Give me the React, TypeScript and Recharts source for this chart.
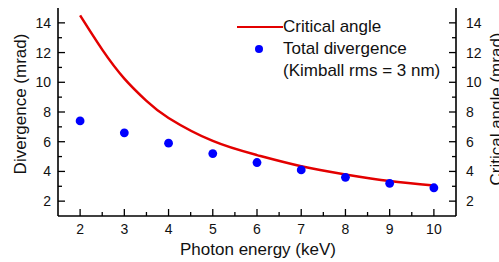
import React from 'react';
import { ComposedChart, Line, XAxis, YAxis } from 'recharts';

const curveEnergy = [2, 2.5, 3, 3.5, 4, 5, 6, 7, 8, 9, 10];
const criticalAngle = [14.5, 12.2, 10.25, 8.75, 7.6, 6.05, 5.1, 4.35, 3.8, 3.35, 3.05];
const dotEnergy = [2, 3, 4, 5, 6, 7, 8, 9, 10];
const totalDivergence = [7.4, 6.6, 5.9, 5.2, 4.6, 4.1, 3.6, 3.2, 2.9];

const xTicks = [2, 2.5, 3, 3.5, 4, 4.5, 5, 5.5, 6, 6.5, 7, 7.5, 8, 8.5, 9, 9.5, 10];
const yTicks = [2, 3, 4, 5, 6, 7, 8, 9, 10, 11, 12, 13, 14];

const FONT = '"Liberation Sans", Arial, sans-serif';
const RED = '#e30000';
const BLUE = '#0000ff';

const energies = Array.from(new Set([...curveEnergy, ...dotEnergy])).sort((a, b) => a - b);
const chartData = energies.map((e) => {
  const ci = curveEnergy.indexOf(e);
  const di = dotEnergy.indexOf(e);
  return {
    energy: e,
    critical: ci >= 0 ? criticalAngle[ci] : null,
    divergence: di >= 0 ? totalDivergence[di] : null,
  };
});

// eslint-disable-next-line @typescript-eslint/no-explicit-any
function BottomTick({ x, y, payload }: any) {
  const major = Number.isInteger(payload.value);
  return (
    <g>
      <line x1={x} x2={x} y1={y} y2={y - (major ? 7 : 4)} stroke="#000" strokeWidth={1.3} />
      {major && (
        <text x={x} y={y + 18} textAnchor="middle" fontSize={14} fontFamily={FONT} fill="#111">
          {payload.value}
        </text>
      )}
    </g>
  );
}

// eslint-disable-next-line @typescript-eslint/no-explicit-any
function TopTick({ x, y, payload }: any) {
  const major = Number.isInteger(payload.value);
  return <line x1={x} x2={x} y1={y} y2={y + (major ? 7 : 4)} stroke="#000" strokeWidth={1.3} />;
}

// eslint-disable-next-line @typescript-eslint/no-explicit-any
function LeftTick({ x, y, payload }: any) {
  const major = payload.value % 2 === 0;
  return (
    <g>
      <line x1={x} x2={x + (major ? 7 : 4)} y1={y} y2={y} stroke="#000" strokeWidth={1.3} />
      {major && (
        <text x={x - 7} y={y + 5} textAnchor="end" fontSize={14} fontFamily={FONT} fill="#111">
          {payload.value}
        </text>
      )}
    </g>
  );
}

// eslint-disable-next-line @typescript-eslint/no-explicit-any
function RightTick({ x, y, payload }: any) {
  const major = payload.value % 2 === 0;
  return (
    <g>
      <line x1={x} x2={x - (major ? 7 : 4)} y1={y} y2={y} stroke="#000" strokeWidth={1.3} />
      {major && (
        <text x={x + 10} y={y + 5} textAnchor="start" fontSize={14} fontFamily={FONT} fill="#111">
          {payload.value}
        </text>
      )}
    </g>
  );
}

const axisLine = { stroke: '#000', strokeWidth: 1.6 };

export default function App() {
  return (
    <div style={{ position: 'absolute', left: 0, top: 0, width: 499, height: 262, background: '#fff', fontFamily: FONT }}>
      <ComposedChart width={499} height={262} data={chartData} margin={{ top: 8, right: 0, left: 0, bottom: 0 }}>
        <XAxis
          xAxisId="bottom"
          dataKey="energy"
          type="number"
          domain={[1.5, 10.5]}
          ticks={xTicks}
          interval={0}
          height={46}
          tickSize={0}
          tickMargin={0}
          tickLine={false}
          axisLine={axisLine}
          tick={<BottomTick />}
          label={{
            content: () => (
              <text x={258} y={255} textAnchor="middle" fontSize={17} fontFamily={FONT} fill="#111">
                Photon energy (keV)
              </text>
            ),
          }}
        />
        <XAxis
          xAxisId="top"
          dataKey="energy"
          type="number"
          orientation="top"
          domain={[1.5, 10.5]}
          ticks={xTicks}
          interval={0}
          height={0}
          tickSize={0}
          tickMargin={0}
          tickLine={false}
          axisLine={axisLine}
          tick={<TopTick />}
        />
        <YAxis
          yAxisId="left"
          type="number"
          domain={[1, 15]}
          ticks={yTicks}
          interval={0}
          width={58}
          tickSize={0}
          tickMargin={0}
          tickLine={false}
          axisLine={axisLine}
          tick={<LeftTick />}
          label={{
            content: () => (
              <text x={26} y={104} transform="rotate(-90, 26, 104)" textAnchor="middle" fontSize={17} fontFamily={FONT} fill="#111">
                Divergence (mrad)
              </text>
            ),
          }}
        />
        <YAxis
          yAxisId="right"
          orientation="right"
          type="number"
          domain={[1, 15]}
          ticks={yTicks}
          interval={0}
          width={43}
          tickSize={0}
          tickMargin={0}
          tickLine={false}
          axisLine={axisLine}
          tick={<RightTick />}
          label={{
            content: () => (
              <text x={502} y={109} transform="rotate(-90, 502, 109)" textAnchor="middle" fontSize={17} fontFamily={FONT} fill="#111">
                Critical angle (mrad)
              </text>
            ),
          }}
        />
        <Line
          xAxisId="top"
          yAxisId="right"
          dataKey="critical"
          type="natural"
          stroke={RED}
          strokeWidth={2.5}
          dot={false}
          connectNulls
          isAnimationActive={false}
        />
        <Line
          xAxisId="bottom"
          yAxisId="left"
          dataKey="divergence"
          stroke="none"
          dot={{ r: 4.4, fill: BLUE, stroke: 'none' }}
          activeDot={false}
          isAnimationActive={false}
        />
      </ComposedChart>
      <div style={{ position: 'absolute', left: 0, top: 0, fontSize: 17, color: '#111', lineHeight: '22px' }}>
        <div style={{ position: 'absolute', left: 237, top: 25.5, width: 46, height: 2.5, background: RED }} />
        <div style={{ position: 'absolute', left: 283, top: 16, whiteSpace: 'nowrap' }}>Critical angle</div>
        <div style={{ position: 'absolute', left: 254.6, top: 44.5, width: 8.8, height: 8.8, borderRadius: '50%', background: BLUE }} />
        <div style={{ position: 'absolute', left: 283, top: 38, whiteSpace: 'nowrap' }}>Total divergence</div>
        <div style={{ position: 'absolute', left: 283, top: 60, whiteSpace: 'nowrap' }}>(Kimball rms = 3 nm)</div>
      </div>
    </div>
  );
}
